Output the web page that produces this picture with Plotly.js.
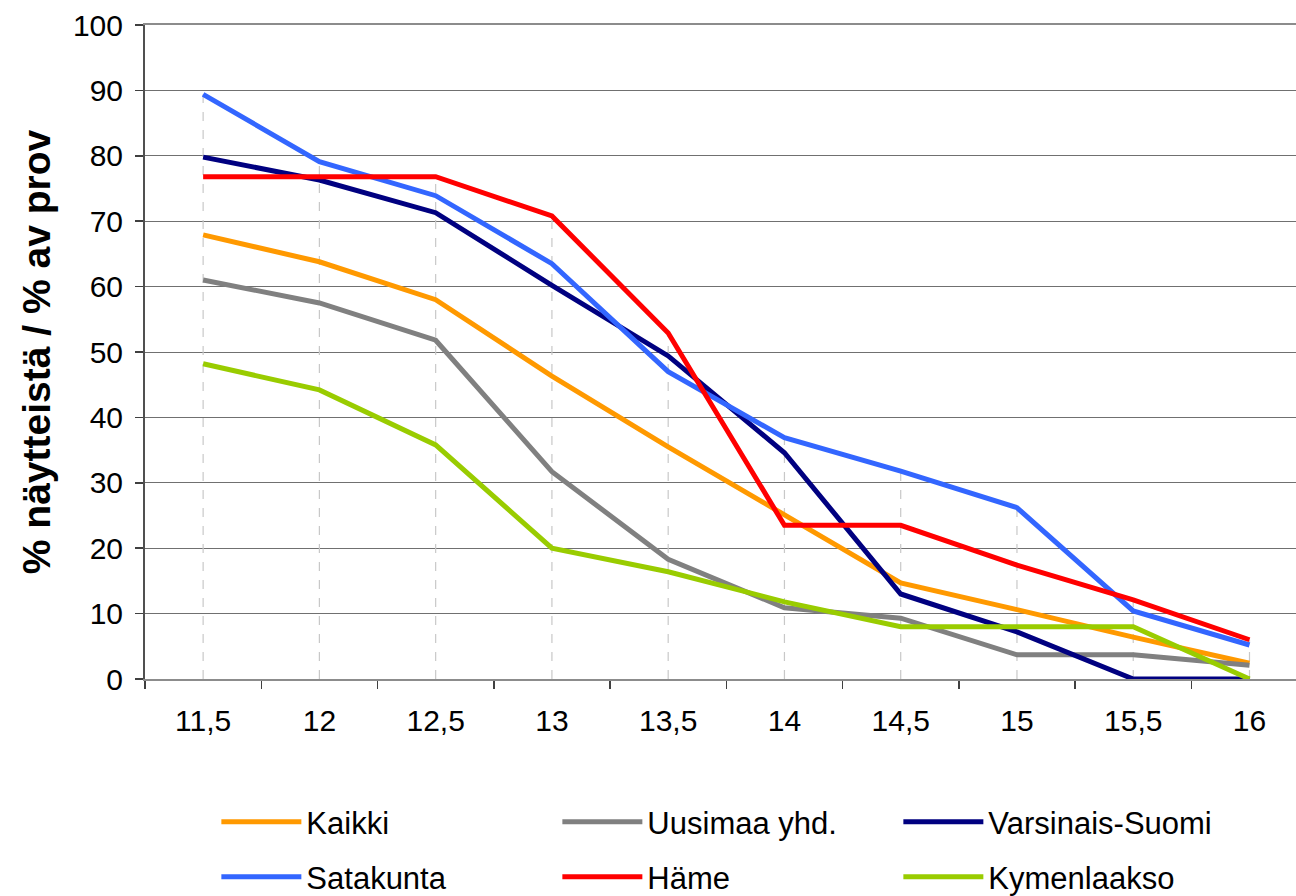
<!DOCTYPE html>
<html>
<head>
<meta charset="utf-8">
<script src="https://cdn.plot.ly/plotly-3.0.1.min.js"></script>
<style>
  html, body { margin: 0; padding: 0; background: #fff; }
  #chart { width: 1296px; height: 896px; }
</style>
</head>
<body>
<div id="chart"></div>
<script>
// Pituusluokat (cm) ja osuudet (%)
const sizes = [11.5, 12, 12.5, 13, 13.5, 14, 14.5, 15, 15.5, 16];
const sizeLabels = ['11,5', '12', '12,5', '13', '13,5', '14', '14,5', '15', '15,5', '16'];

const kaikki = [67.9, 63.8, 58.0, 46.3, 35.5, 25.1, 14.7, 10.6, 6.4, 2.4];
const uusimaa = [61.0, 57.5, 51.8, 31.7, 18.3, 10.9, 9.3, 3.7, 3.7, 2.1];
const varsinaisSuomi = [79.8, 76.3, 71.3, 60.2, 49.4, 34.6, 13.0, 7.2, 0, 0];
const satakunta = [89.4, 79.1, 73.9, 63.5, 47.0, 36.9, 31.8, 26.2, 10.4, 5.2];
const hame = [76.8, 76.8, 76.8, 70.8, 52.9, 23.5, 23.5, 17.4, 12.1, 6.0];
const kymenlaakso = [48.2, 44.2, 35.8, 20.0, 16.4, 11.8, 8.0, 8.0, 8.0, 0];

const seriesNames = ['Kaikki', 'Uusimaa yhd.', 'Varsinais-Suomi', 'Satakunta', 'Häme', 'Kymenlaakso'];
const seriesColors = ['#FF9900', '#808080', '#000080', '#3366FF', '#FF0000', '#99CC00'];
const seriesData = [kaikki, uusimaa, varsinaisSuomi, satakunta, hame, kymenlaakso];

// pudotusviivat: kunkin pisteen korkeimmasta arvosta akselille
const dropX = [], dropY = [];
sizes.forEach((s, i) => {
    const top = Math.max(...seriesData.map(d => d[i]));
    dropX.push(s, s, null);
    dropY.push(0, top, null);
});

const traces = [{
    x: dropX,
    y: dropY,
    mode: 'lines',
    line: {color: '#c8c8c8', width: 1.2, dash: 'dash'},
    showlegend: false,
    hoverinfo: 'skip'
}];

seriesData.forEach((d, i) => {
    traces.push({
        x: sizes,
        y: d,
        mode: 'lines',
        name: seriesNames[i],
        legend: i < 3 ? 'legend' : 'legend2',
        line: {color: seriesColors[i], width: 5}
    });
});

const legendBase = {
    orientation: 'h',
    x: 0.062,
    xanchor: 'left',
    yref: 'container',
    yanchor: 'middle',
    entrywidth: 246,
    entrywidthmode: 'pixels',
    itemwidth: 80,
    borderwidth: 0,
    bgcolor: 'rgba(0,0,0,0)',
    font: {family: 'Liberation Sans, Arial, sans-serif', size: 31}
};

const layout = {
    width: 1296,
    height: 896,
    margin: {l: 145, r: 0, t: 25, b: 217},
    paper_bgcolor: '#fff',
    plot_bgcolor: '#fff',
    font: {family: 'Liberation Sans, Arial, sans-serif', color: '#000', size: 30},
    xaxis: {
        range: [11.25, 16.2],
        tickvals: sizes,
        ticktext: sizeLabels,
        ticks: '',
        ticklabelstandoff: 14,
        showgrid: false,
        zeroline: false,
        showline: true,
        mirror: true,
        linecolor: '#8c8c8c',
        linewidth: 2,
        tickfont: {size: 30},
        minor: {
            tick0: 11.25,
            dtick: 0.5,
            ticks: 'outside',
            ticklen: 8,
            tickwidth: 1.5,
            tickcolor: '#404040',
            showgrid: false
        }
    },
    yaxis: {
        range: [0, 100],
        dtick: 10,
        ticks: 'outside',
        ticklen: 8,
        tickwidth: 1.5,
        tickcolor: '#404040',
        ticklabelstandoff: 6,
        showgrid: true,
        gridcolor: '#707070',
        gridwidth: 1,
        zeroline: false,
        showline: true,
        linecolor: '#505050',
        linewidth: 2,
        tickfont: {size: 30},
        title: {
            text: '% näytteistä / % av prov',
            font: {size: 39, family: 'Liberation Sans, Arial, sans-serif', weight: 'bold'},
            standoff: 10
        }
    },
    legend: Object.assign({}, legendBase, {y: 0.0826}),
    legend2: Object.assign({}, legendBase, {y: 0.0212}),
    showlegend: true
};

Plotly.newPlot('chart', traces, layout, {displayModeBar: false, staticPlot: true});
</script>
</body>
</html>
